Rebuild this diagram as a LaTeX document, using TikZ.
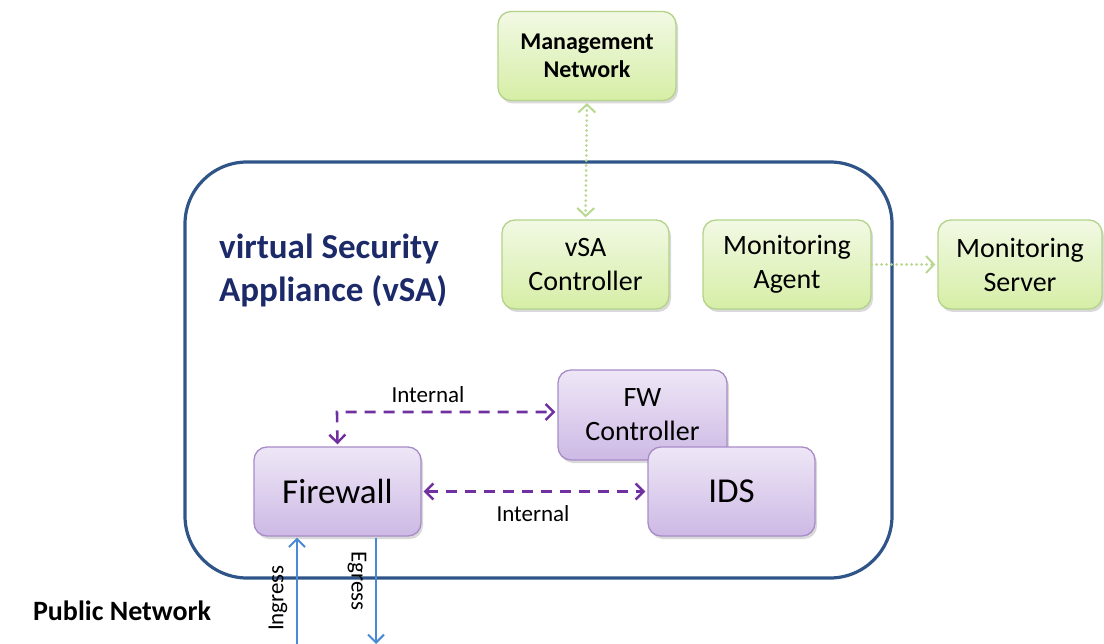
\documentclass[tikz,border=0pt]{standalone}
\usepackage{fontspec}
\setmainfont{Carlito}
\usetikzlibrary{arrows.meta,shadows}
\definecolor{gborder}{HTML}{B3D38A}
\definecolor{gtop}{HTML}{F2F9E4}
\definecolor{gbot}{HTML}{D6EEA6}
\definecolor{pborder}{HTML}{A88CC8}
\definecolor{ptop}{HTML}{EEE7F6}
\definecolor{pbot}{HTML}{CDB9E5}
\definecolor{vsablue}{HTML}{2F5487}
\definecolor{titleblue}{HTML}{1C2A6A}
\definecolor{intpurple}{HTML}{7030A0}
\definecolor{iblue}{HTML}{4A8AD4}
\definecolor{gline}{HTML}{B8D890}
\tikzset{
  gtip/.tip={Straight Barb[length=8pt,width=17pt,line width=2pt]},
  ptip/.tip={Straight Barb[length=8pt,width=16pt,line width=2.4pt]},
  btip/.tip={Straight Barb[length=8pt,width=16pt,line width=2pt]},
  box/.style={rectangle, rounded corners=13pt, line width=1.3pt, minimum width=167pt, minimum height=89pt, inner sep=0pt, align=center,
    drop shadow={shadow xshift=2pt, shadow yshift=-3pt, opacity=0.25, fill=black!60}},
  greenbox/.style={box, draw=gborder, top color=gtop, bottom color=gbot, font=\fontsize{28}{34}\selectfont},
  purplebox/.style={box, draw=pborder, top color=ptop, bottom color=pbot, font=\fontsize{28}{34}\selectfont},
  dotarrow/.style={draw=gline, line width=3pt, dash pattern=on 0pt off 5pt, line cap=round, arrows={gtip-gtip}},
  intarrow/.style={draw=intpurple, line width=2.6pt, dash pattern=on 11pt off 8pt, arrows={ptip-ptip}},
  ioarrow/.style={draw=iblue, line width=2pt, -btip},
  lbl/.style={font=\fontsize{23}{26}\selectfont, inner sep=0pt},
}
\begin{document}
\begin{tikzpicture}[x=1pt,y=-1pt]
\useasboundingbox (0,0) rectangle (1104,644);
% outer vSA container
\node[draw=vsablue, line width=3.2pt, rounded corners=62pt, minimum width=707pt, minimum height=416pt, inner sep=0pt] (vsa) at (538.5,370) {};
\node[font=\bfseries\fontsize{35}{43}\selectfont, text=titleblue, align=left, anchor=west, inner sep=0pt] (title) at (219,270) {virtual Security\\Appliance (vSA)};
% green boxes
\node[greenbox, minimum width=178pt, font=\bfseries\fontsize{24}{28}\selectfont] (mgmt) at (587,56) {Management\\Network};
\node[greenbox] (ctrl) at (585.5,264.5) {vSA\\Controller};
\node[greenbox, minimum width=168pt] (agent) at (787,264.5) {Monitoring\\Agent};
\node[greenbox, minimum width=164pt] (server) at (1020,264.5) {Monitoring\\Server};
% purple boxes
\node[purplebox, minimum width=169pt, minimum height=90pt] (fwc) at (642.5,415) {FW\\Controller};
\node[purplebox, font=\fontsize{35}{38}\selectfont] (ids) at (731.5,491.5) {IDS};
\node[purplebox, font=\fontsize{35}{38}\selectfont] (fw) at (337.5,491.5) {Firewall};
% connectors
\draw[dotarrow, shorten <=2pt, shorten >=2pt] (mgmt.south) -- (ctrl.north);
\draw[dotarrow, arrows={-gtip}, shorten >=2pt] (agent.east) -- (server.west);
\coordinate (bend) at (337,412);
\draw[intarrow, shorten <=2pt, shorten >=2pt] (fw.north) -- (bend) -- (fwc.west |- bend);
\node[lbl] (int1) at (428,395) {Internal};
\draw[intarrow, shorten <=2pt, shorten >=2pt] (fw.east) -- (ids.west);
\node[lbl] (int2) at (533,514) {Internal};
% ingress / egress
\coordinate (inbot) at (297,644);
\coordinate (egbot) at (376,644);
\draw[ioarrow, shorten >=1pt] (inbot) -- (inbot |- fw.south);
\draw[ioarrow, shorten <=1pt] (egbot |- fw.south) -- (egbot);
\node[lbl, rotate=90] (ing) at (278,598) {Ingress};
\node[lbl, rotate=-90] (egr) at (357,581) {Egress};
\node[font=\bfseries\fontsize{28}{30}\selectfont, inner sep=0pt] (pub) at (122,611) {Public Network};
\end{tikzpicture}
\end{document}
